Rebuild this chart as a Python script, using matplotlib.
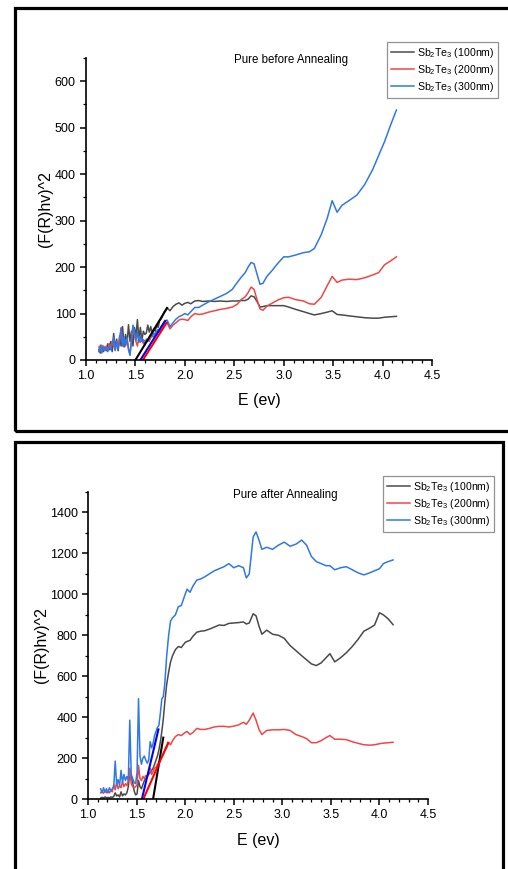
import matplotlib
matplotlib.use('Agg')
import matplotlib.pyplot as plt
from matplotlib.patches import Rectangle
from matplotlib.ticker import MultipleLocator

plt.rcParams['font.family'] = ['Liberation Sans', 'DejaVu Sans']
plt.rcParams['mathtext.fontset'] = 'custom'
plt.rcParams['mathtext.rm'] = 'Liberation Sans'
plt.rcParams['mathtext.it'] = 'Liberation Sans:italic'

# ---- data: before annealing ----
e_before = [1.13, 1.145, 1.16, 1.175, 1.19, 1.205, 1.22, 1.235, 1.25, 1.265, 1.28, 1.295, 1.31, 1.325, 1.34,
            1.355, 1.37, 1.385, 1.40, 1.415, 1.43, 1.445, 1.46, 1.475, 1.49, 1.505, 1.52, 1.535, 1.55, 1.565,
            1.58, 1.595, 1.61, 1.625, 1.64, 1.655, 1.67, 1.685, 1.70, 1.715, 1.73, 1.745, 1.76, 1.775, 1.79,
            1.82, 1.85, 1.88, 1.91, 1.94, 1.97, 2.00, 2.03, 2.06, 2.10, 2.14, 2.18, 2.24, 2.30, 2.36, 2.42,
            2.48, 2.53, 2.57, 2.61, 2.64, 2.67, 2.70, 2.73, 2.76, 2.79, 2.83, 2.88, 2.94, 3.00, 3.05, 3.12,
            3.20, 3.26, 3.31, 3.38, 3.44, 3.49, 3.54, 3.59, 3.66, 3.74, 3.82, 3.90, 3.96, 4.02, 4.08, 4.14]
before_100 = [22, 15, 30, 18, 28, 20, 35, 22, 40, 18, 57, 25, 45, 20, 52,
              30, 72, 28, 55, 35, 76, 40, 62, 30, 70, 50, 87, 45, 70, 42,
              62, 55, 58, 75, 60, 72, 55, 68, 62, 75, 70, 85, 88, 95, 103,
              112, 106, 115, 120, 123, 118, 122, 124, 121, 127, 128, 126, 127, 126, 127, 126,
              127, 127, 128, 128, 131, 138, 136, 126, 114, 115, 117, 117, 117, 117, 114, 109,
              104, 100, 97, 100, 103, 106, 98, 97, 95, 93, 91, 90, 90, 92, 93, 94]
before_200 = [28, 20, 32, 22, 25, 30, 20, 35, 25, 40, 30, 22, 38, 30, 45,
              70, 35, 48, 30, 45, 25, 12, 45, 72, 55, 40, 30, 50, 38, 45,
              35, 42, 38, 44, 40, 48, 52, 50, 58, 55, 62, 60, 68, 72, 78,
              80, 67, 75, 80, 86, 88, 87, 85, 93, 100, 98, 99, 103, 106, 109, 111,
              114, 120, 130, 136, 145, 157, 152, 130, 110, 107, 116, 122, 129, 134, 135, 130,
              127, 121, 120, 135, 160, 180, 167, 172, 174, 173, 177, 183, 188, 205, 213, 222]
before_300 = [18, 32, 15, 30, 20, 26, 18, 30, 22, 35, 48, 20, 40, 25, 38,
              68, 30, 50, 32, 48, 22, 10, 40, 75, 62, 42, 60, 38, 52, 40,
              44, 32, 45, 40, 48, 55, 50, 58, 56, 62, 66, 64, 72, 76, 82,
              86, 72, 80, 88, 93, 96, 100, 97, 104, 113, 113, 118, 125, 131, 137, 143,
              152, 167, 178, 188, 200, 210, 207, 185, 163, 165, 180, 192, 208, 222, 222, 226,
              231, 233, 240, 270, 305, 343, 318, 333, 343, 355, 378, 410, 440, 470, 505, 538]
fit_before_e = {'100': [1.50, 1.82], '200': [1.575, 1.815], '300': [1.55, 1.80]}
fit_before_v = {'100': [0, 112], '200': [0, 80], '300': [0, 84]}

# ---- data: after annealing ----
e_after = [1.13, 1.145, 1.16, 1.175, 1.19, 1.205, 1.22, 1.235, 1.25, 1.265, 1.28, 1.295, 1.31, 1.325, 1.34,
           1.355, 1.37, 1.385, 1.40, 1.415, 1.43, 1.445, 1.46, 1.475, 1.49, 1.505, 1.52, 1.535, 1.55, 1.565,
           1.58, 1.595, 1.61, 1.625, 1.64, 1.655, 1.67, 1.685, 1.70, 1.715, 1.73, 1.745, 1.76, 1.775, 1.79,
           1.81, 1.83, 1.85, 1.87, 1.90, 1.93, 1.96, 2.00, 2.02, 2.05, 2.08, 2.12, 2.16, 2.20, 2.25, 2.30,
           2.35, 2.40, 2.45, 2.50, 2.55, 2.60, 2.63, 2.66, 2.70, 2.73, 2.76, 2.79, 2.84, 2.90, 2.96, 3.02,
           3.08, 3.14, 3.20, 3.25, 3.30, 3.35, 3.40, 3.45, 3.49, 3.54, 3.60, 3.66, 3.72, 3.78, 3.84, 3.90,
           3.95, 4.00, 4.04, 4.09, 4.14]
after_100 = [5, 8, 5, 10, 6, 8, 5, 10, 8, 12, 30, 15, 20, 10, 35,
             15, 25, 20, 30, 60, 130, 110, 80, 40, 20, 25, 90, 60, 50, 70,
             90, 100, 110, 120, 130, 140, 150, 170, 190, 210, 240, 280, 330, 390, 470,
             560, 620, 670, 700, 730, 745, 740, 765, 770, 775, 795, 815, 820, 822, 830, 840,
             850, 848, 858, 860, 862, 865, 855, 860, 905, 895, 845, 805, 825, 805, 800, 785,
             750, 725, 700, 680, 660, 652, 665, 690, 710, 670, 690, 715, 745, 780, 820, 835,
             850, 910, 900, 880, 852]
after_200 = [30, 40, 28, 38, 30, 42, 30, 40, 35, 70, 45, 80, 50, 65, 55,
             85, 60, 75, 65, 90, 150, 75, 60, 55, 60, 70, 165, 100, 90, 110,
             100, 115, 105, 140, 150, 120, 135, 150, 155, 170, 180, 195, 205, 215, 235,
             250, 275, 265, 285, 305, 315, 310, 325, 330, 315, 325, 345, 340, 340, 345, 352,
             355, 355, 352, 356, 362, 375, 365, 385, 420, 385, 340, 315, 335, 338, 338, 340,
             335, 315, 305, 295, 275, 275, 285, 300, 310, 292, 292, 290, 280, 272, 265, 263,
             265, 270, 273, 275, 277]
after_300 = [50, 30, 55, 35, 50, 30, 55, 40, 50, 60, 185, 70, 95, 65, 140,
             80, 120, 90, 110, 90, 385, 120, 100, 80, 75, 130, 490, 210, 170, 200,
             210, 190, 175, 190, 280, 250, 270, 310, 330, 350, 360, 420, 490, 500, 560,
             700, 800, 870, 885, 900, 940, 945, 1000, 1025, 1010, 1040, 1070, 1075, 1085, 1100, 1115,
             1125, 1135, 1150, 1130, 1140, 1130, 1080, 1100, 1280, 1305, 1265, 1220, 1230, 1220, 1240, 1255,
             1235, 1245, 1265, 1240, 1185, 1160, 1150, 1140, 1140, 1120, 1130, 1135, 1120, 1105, 1095, 1105,
             1115, 1125, 1150, 1160, 1168]
fit_after_e = {'100': [1.67, 1.775], '200': [1.57, 1.825], '300': [1.555, 1.725]}
fit_after_v = {'100': [0, 300], '200': [0, 275], '300': [0, 340]}

labels = {'100': r'Sb$_2$Te$_3$ (100nm)', '200': r'Sb$_2$Te$_3$ (200nm)', '300': r'Sb$_2$Te$_3$ (300nm)'}
data_colors = {'100': '#4a4a4a', '200': '#f04646', '300': '#2f78e6'}
fit_colors = {'100': '#000000', '200': '#ff0000', '300': '#0000ff'}

W, H = 508, 869
fig = plt.figure(figsize=(W / 100, H / 100), dpi=100)


def px_box(left, top, right, bottom):
    return [left / W, 1 - bottom / H, (right - left) / W, (bottom - top) / H]


def draw_panel(box, energies, series, fit_e, fit_v, ymax, ymajor, yminor, title, title_xy, leg_xy, ylab_x):
    ax = fig.add_axes(px_box(*box))
    for key, vals in series.items():
        ax.plot(energies, vals, color=data_colors[key], lw=1.1, label=labels[key])
    for key in ['100', '300', '200']:
        ax.plot(fit_e[key], fit_v[key], color=fit_colors[key], lw=1.5)
    ax.set_xlim(1.0, 4.5)
    ax.set_ylim(0, ymax)
    ax.xaxis.set_major_locator(MultipleLocator(0.5))
    ax.xaxis.set_minor_locator(MultipleLocator(0.1))
    ax.yaxis.set_major_locator(MultipleLocator(ymajor))
    ax.yaxis.set_minor_locator(MultipleLocator(yminor))
    ax.set_yticks([t for t in range(0, ymax, ymajor)])
    ax.spines['top'].set_visible(False)
    ax.spines['right'].set_visible(False)
    for s in ['left', 'bottom']:
        ax.spines[s].set_linewidth(1.2)
    ax.tick_params(which='major', direction='out', length=4, width=1.1, labelsize=9)
    ax.tick_params(which='minor', direction='out', length=2.3, width=0.9)
    ax.set_xlabel('E (ev)', fontsize=11.5)
    ax.set_ylabel('(F(R)hv)^2', fontsize=11.5)
    ax.xaxis.set_label_coords(0.5, -0.11)
    ax.yaxis.set_label_coords(ylab_x, 0.5)
    fig.text(title_xy[0] / W, 1 - title_xy[1] / H, title, fontsize=8.3, ha='center', va='center')
    leg = fig.legend(handles=ax.get_lines()[:3], loc='upper left',
                     bbox_to_anchor=(leg_xy[0] / W, 1 - leg_xy[1] / H),
                     fontsize=7.6, frameon=True, fancybox=False, handlelength=2.2,
                     handletextpad=0.3, borderpad=0.35, labelspacing=0.3, borderaxespad=0)
    leg.get_frame().set_edgecolor('#777777')
    leg.get_frame().set_linewidth(0.9)
    return ax


draw_panel((86, 58, 432, 360), e_before,
           {'100': before_100, '200': before_200, '300': before_300},
           fit_before_e, fit_before_v, 650, 100, 50,
           'Pure before Annealing', (291, 60), (387, 42), -0.095)

draw_panel((88, 492, 428, 799), e_after,
           {'100': after_100, '200': after_200, '300': after_300},
           fit_after_e, fit_after_v, 1500, 200, 100,
           'Pure after Annealing', (285, 495), (383, 476), -0.115)

# panel frames
fig.add_artist(Rectangle((15 / W, 1 - 431 / H), 500 / W, 423 / H, transform=fig.transFigure,
                         fill=False, edgecolor='black', lw=2.3, clip_on=False))
fig.add_artist(Rectangle((15 / W, -0.02), 488 / W, (869 - 442) / H + 0.02, transform=fig.transFigure,
                         fill=False, edgecolor='black', lw=2.3, clip_on=False))

fig.savefig('out.png', dpi=100)
